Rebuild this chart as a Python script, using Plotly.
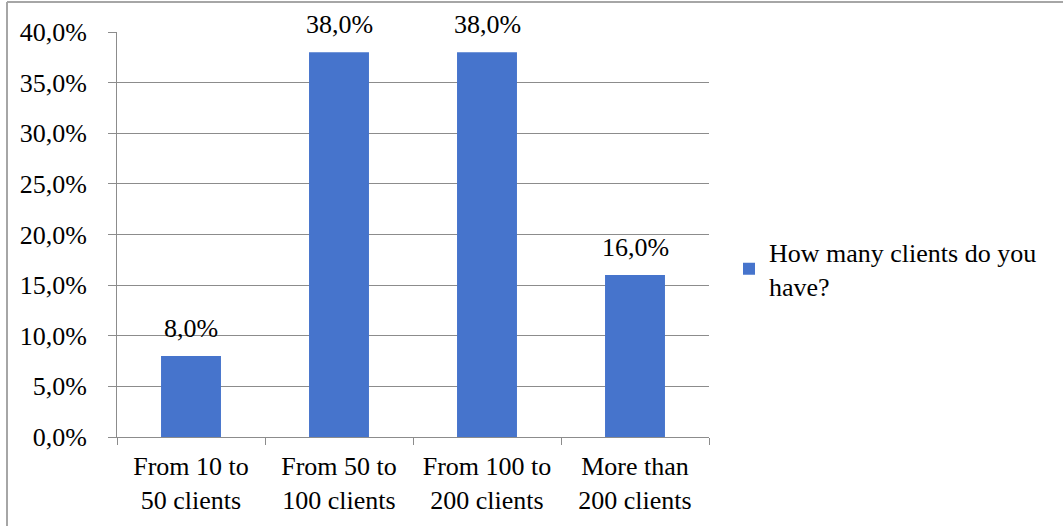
import plotly.graph_objects as go

categories = ["From 10 to<br>50 clients", "From 50 to<br>100 clients",
              "From 100 to<br>200 clients", "More than<br>200 clients"]
values = [0.08, 0.38, 0.38, 0.16]
series_name = "How many clients do you<br>have?"
ytick_vals = [0, 0.05, 0.10, 0.15, 0.20, 0.25, 0.30, 0.35, 0.40]

W, H = 1063, 526
L, R, T, B = 117, 709, 32, 437
FAM = "Liberation Serif"
font = dict(family=FAM, size=26, color="#000000")

fig = go.Figure()
fig.add_trace(go.Bar(
    x=categories, y=values, name=series_name,
    marker=dict(color="#4674CC", line=dict(width=0)),
    width=0.405,
))

# data labels
for c, v in zip(categories, values):
    fig.add_annotation(x=c, y=v, xref="x", yref="y", text=f"{v*100:.1f}%".replace(".", ","),
                       showarrow=False, yanchor="bottom", yshift=11, font=font)

grid = "#8c8c8c"
fig.update_layout(
    width=W, height=H,
    margin=dict(l=L, r=W - R, t=T, b=H - B, pad=0),
    paper_bgcolor="white", plot_bgcolor="white",
    separators=", ",
    font=font,
    showlegend=True,
    legend=dict(x=(729 - L) / (R - L), y=(437 - 269) / (B - T), xanchor="left", yanchor="middle",
                font=font, itemwidth=30, tracegroupgap=0),
    bargap=0.595,
    xaxis=dict(showline=True, linecolor=grid, linewidth=1, ticks="outside", ticklen=7,
               tickcolor=grid, tickson="boundaries", showgrid=False, tickfont=font,
               ticklabelstandoff=6),
    yaxis=dict(range=[0, 0.40], tickvals=ytick_vals, tickformat=".1%",
               showline=True, linecolor=grid, linewidth=1, ticks="outside", ticklen=8,
               tickcolor=grid, showgrid=True, gridcolor=grid, gridwidth=1,
               zeroline=False, tickfont=font, ticklabelstandoff=16),
)

# outer chart border (top and left edges visible)
x_left = (7 - L) / (R - L)
y_top = (B - 2) / (B - T)
fig.add_shape(type="line", xref="paper", yref="paper", x0=x_left, x1=(W - L) / (R - L) + 0.01,
              y0=y_top, y1=y_top, line=dict(color="#a6a6a6", width=2))
fig.add_shape(type="line", xref="paper", yref="paper", x0=x_left, x1=x_left,
              y0=y_top, y1=-0.3, line=dict(color="#a6a6a6", width=2))

fig.write_html("out.html")
